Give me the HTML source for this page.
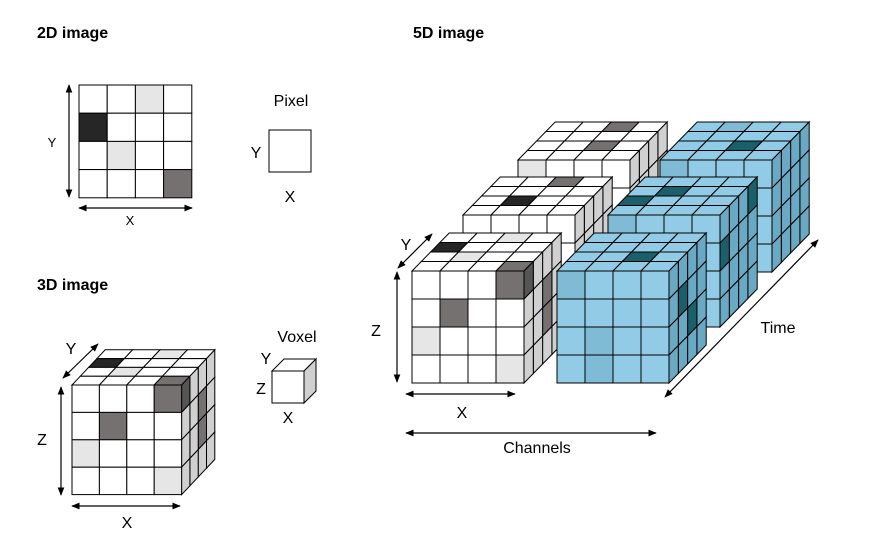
<!DOCTYPE html>
<html><head><meta charset="utf-8"><style>
body{margin:0;background:#fff}
svg{display:block;font-family:"Liberation Sans",sans-serif}
</style></head><body>
<svg id="s" width="880" height="541" viewBox="0 0 880 541">
<defs><marker id="ah" viewBox="0 0 10 10" refX="9" refY="5" markerWidth="7" markerHeight="7" orient="auto-start-reverse"><path d="M0,1 L10,5 L0,9 z" fill="#000"/></marker></defs>
<text x="37" y="38" font-size="16" font-weight="bold">2D image</text>
<text x="37" y="290" font-size="16" font-weight="bold">3D image</text>
<text x="413" y="38" font-size="16" font-weight="bold">5D image</text>
<g>
<polygon points="272,371 304,371 316,359 284,359" fill="#fff" stroke="#000"/>
<polygon points="304,371 316,359 316,391 304,403" fill="#d0d0d0" stroke="#000"/>
<rect x="272" y="371" width="32" height="32" fill="#fff" stroke="#000"/>
</g>
<g id="g"></g>
</svg>
<script>
const NS='http://www.w3.org/2000/svg';
const G=document.getElementById('g');
function el(tag,attrs,parent){const e=document.createElementNS(NS,tag);for(const k in attrs)e.setAttribute(k,attrs[k]);(parent||G).appendChild(e);return e;}
function poly(pts,fill,parent){return el('polygon',{points:pts.map(p=>p.join(',')).join(' '),fill:fill,stroke:'#000','stroke-width':1},parent);}
function arrow(x1,y1,x2,y2,name){const l=el('line',{x1,y1,x2,y2,stroke:'#000','stroke-width':1.2,'marker-start':'url(#ah)','marker-end':'url(#ah)'});

}
function txt(x,y,s,size,name){const t=el('text',{x,y,'font-size':size,'text-anchor':'middle'});t.textContent=s;

}
function cube(ox,oy,s,dx,dy,pal,front,top,side,name){
  const g=el('g',{});
  
  
  for(let j=3;j>=0;j--)for(let i=0;i<4;i++){
    const x=ox+i*s+j*dx,y=oy+j*dy;
    poly([[x,y],[x+s,y],[x+s+dx,y+dy],[x+dx,y+dy]],top[j+','+i]||pal.top,g);}
  for(let j=3;j>=0;j--)for(let k=0;k<4;k++){
    const x=ox+4*s+j*dx,y=oy+k*s+j*dy;
    poly([[x,y],[x+dx,y+dy],[x+dx,y+dy+s],[x,y+s]],side[j+','+k]||pal.side,g);}
  for(let r=0;r<4;r++)for(let c=0;c<4;c++){
    el('rect',{x:ox+c*s,y:oy+r*s,width:s,height:s,fill:front[r+','+c]||pal.front,stroke:'#000','stroke-width':1},g);}
}
const W={front:'#fff',top:'#fff',side:'#d0d0d0'};
const B={front:'#92cbe5',top:'#92cbe5',side:'#6aa9c3'};
const DG='#767171',BK='#262626',LG='#e6e6e6',MB='#80bbd6',DB='#1b5f6b';
const g2=el('g',{});


const sh2={'0,2':LG,'1,0':BK,'2,1':LG,'3,3':DG};
for(let r=0;r<4;r++)for(let c=0;c<4;c++)el('rect',{x:79+c*28.2,y:85+r*28.2,width:28.2,height:28.2,fill:sh2[r+','+c]||'#fff',stroke:'#000','stroke-width':1},g2);
arrow(69,85,69,197,'y-arrow-2d');arrow(79,208,192,208,'x-arrow-2d');
txt(52,147,'Y',13,'y-label-2d');txt(130,225,'X',13,'x-label-2d');
const px=el('rect',{x:269,y:130,width:42,height:42,fill:'#fff',stroke:'#000','stroke-width':1});


txt(291,106,'Pixel',16,'pixel-label');txt(256,158,'Y',16,'pixel-y');txt(290,202,'X',16,'pixel-x');
cube(72,385,27.4,8.3,-8.8,W,{'0,3':DG,'1,1':DG,'2,0':LG,'3,3':LG},{'2,0':BK,'3,2':LG,'1,1':LG,'0,3':DG},{'0,0':'#555','2,1':DG,'2,2':DG},'cube-3d');
arrow(63,378,98,344,'y-arrow-3d');arrow(61,387,61,495,'z-arrow-3d');arrow(72,506,180,506,'x-arrow-3d');
txt(71,354,'Y',16,'y-label-3d');txt(42,445,'Z',16,'z-label-3d');txt(127,528,'X',16,'x-label-3d');
txt(297,342,'Voxel',16,'voxel-label');txt(266,364,'Y',16,'voxel-y');txt(261,394,'Z',16,'voxel-z');txt(288,423,'X',16,'voxel-x');
const s5=28,dx5=9.3,dy5=-9.5;
cube(518,160,s5,dx5,dy5,W,{'0,0':LG},{'3,2':DG,'1,2':DG},{},'cube-5d-t3-c1');
cube(660,160,s5,dx5,dy5,B,{'0,0':MB},{'1,2':DB,'3,1':MB},{},'cube-5d-t3-c2');
cube(463,215,s5,dx5,dy5,W,{},{'1,1':BK,'3,2':DG},{},'cube-5d-t2-c1');
cube(608,215,s5,dx5,dy5,B,{'0,0':MB},{'2,1':DB,'1,0':DB},{'3,0':DB,'0,1':DB},'cube-5d-t2-c2');
cube(412,271,s5,dx5,dy5,W,{'0,3':DG,'1,1':DG,'2,0':LG,'3,3':LG},{'2,0':BK,'3,2':LG,'1,1':LG,'0,3':DG},{'0,0':'#555','2,1':DG,'2,2':DG},'cube-5d-t1-c1');
cube(557,271,s5,dx5,dy5,B,{'0,0':MB,'2,1':MB,'3,1':MB},{'1,2':DB},{'1,1':DB,'2,2':DB},'cube-5d-t1-c2');
arrow(398,268,432,234,'y-arrow-5d');arrow(397,272,397,382,'z-arrow-5d');arrow(406,394,515,394,'x-arrow-5d');
arrow(406,433,656,433,'channels-arrow');arrow(665,397,818,240,'time-arrow');
txt(406,250,'Y',16,'y-label-5d');txt(376,336,'Z',16,'z-label-5d');txt(462,418,'X',16,'x-label-5d');
txt(537,453,'Channels',16,'channels-label');txt(778,333,'Time',16,'time-label');
</script>
</body></html>
